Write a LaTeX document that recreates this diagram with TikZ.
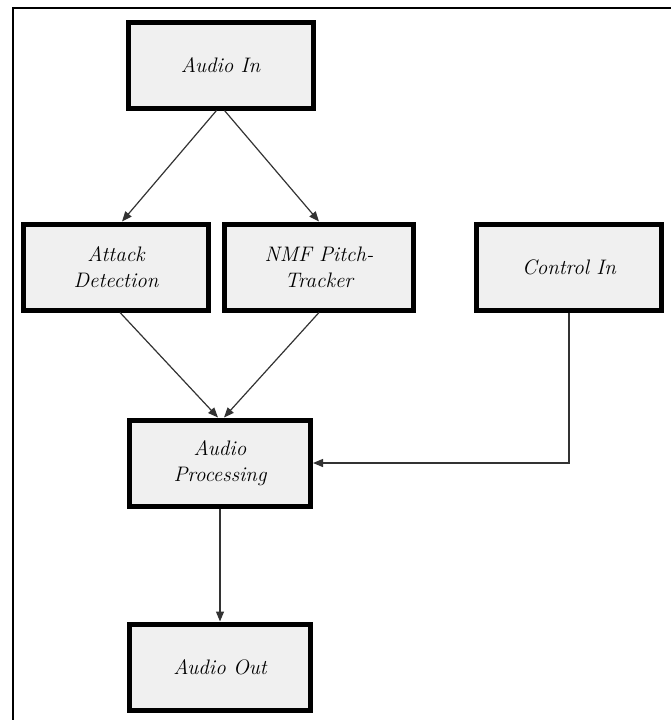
\documentclass[tikz,border=0pt]{standalone}
\usetikzlibrary{arrows.meta}
\begin{document}
\begin{tikzpicture}[x=1pt,y=-1pt,
  blk/.style={draw=black, line width=5pt, fill=gray!12, minimum width=185pt, minimum height=86pt,
    inner sep=0pt, align=center, font=\fontsize{21}{26}\selectfont\itshape},
  conn/.style={draw=black!80, line width=1.2pt, -{Triangle[length=10pt,width=8pt]}},
  frame/.style={draw=black, line width=2pt}]
\useasboundingbox (0,0) rectangle (670,720);
\draw[frame] (13,730) -- (13,8) -- (680,8);
\node[blk] (ain) at (220.5,65) {Audio In};
\node[blk] (att) at (116,267) {Attack\\Detection};
\node[blk, minimum width=189pt] (nmf) at (319,267) {NMF Pitch-\\Tracker};
\node[blk] (ctl) at (569,267) {Control In};
\node[blk, minimum width=181pt] (proc) at (220,463) {Audio\\Processing};
\node[blk, minimum width=181pt] (aout) at (220,667) {Audio Out};
\coordinate (ctlturn) at (ctl.south |- proc.east);
\draw[conn] ([xshift=-4pt]ain.south) -- ([xshift=6pt]att.north);
\draw[conn] ([xshift=4pt]ain.south) -- (nmf.north);
\draw[conn] ([xshift=4pt]att.south) -- ([xshift=-2pt]proc.north);
\draw[conn] (nmf.south) -- ([xshift=4pt]proc.north);
\draw[conn] (ctl.south) -- (ctlturn) -- (proc.east);
\draw[conn] (proc.south) -- (aout.north);
\end{tikzpicture}
\end{document}
